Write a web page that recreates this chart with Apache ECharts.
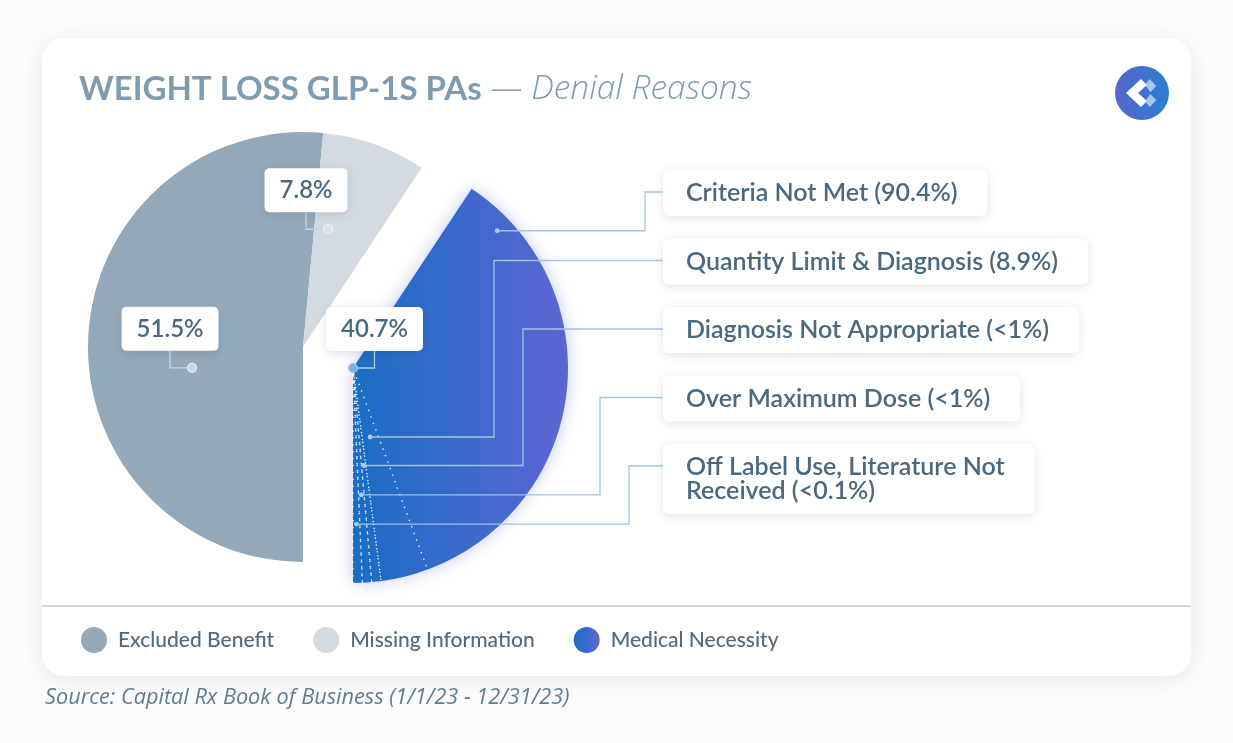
<!DOCTYPE html>
<html>
<head>
<meta charset="utf-8">
<script src="https://cdn.jsdelivr.net/npm/echarts@6.0.0/dist/echarts.min.js"></script>
<style>
html,body{margin:0;padding:0;background:#fcfcfd;width:1233px;height:743px;overflow:hidden}
#card{position:absolute;left:42px;top:38px;width:1149px;height:638px;background:#fff;border-radius:22px;box-shadow:0 3px 20px rgba(40,60,90,0.10)}
#chart{position:absolute;left:0;top:0;width:1233px;height:743px}
</style>
</head>
<body>
<div id="card"></div>
<div id="chart"></div>
<script>
// ---------- data ----------
const mainCategories = ['Excluded Benefit', 'Missing Information', 'Medical Necessity'];
const mainValues = [51.5, 7.8, 40.7];
const mainLabels = ['51.5%', '7.8%', '40.7%'];

const reasonCategories = ['Criteria Not Met', 'Quantity Limit & Diagnosis', 'Diagnosis Not Appropriate', 'Over Maximum Dose', 'Off Label Use, Literature Not Received'];
const reasonShares = [90.4, 8.9, 0.4, 0.25, 0.05];   // share of Medical Necessity denials (small ones estimated)
const reasonLabels = ['90.4%', '8.9%', '<1%', '<1%', '<0.1%'];

const titleMain = 'WEIGHT LOSS GLP-1S PAs';
const titleSub = ' — Denial Reasons';
const sourceText = 'Source: Capital Rx Book of Business (1/1/23 - 12/31/23)';

// ---------- layout / style constants ----------
const mainColors = ['#93a9b9', '#d3dae2'];
const medGradient = {type: 'linear', x: 0, y: 0, x2: 1, y2: 0, colorStops: [{offset: 0, color: '#1a6dc3'}, {offset: 1, color: '#5c66d3'}]};
const mainAnchor = [{t: 0.428, r: 0.525}, {t: 0.235, r: 0.56}, {t: 0.5, r: 0}];
const mainSrc = [[0, 0], [0, 1], [1, 1]];          // [seriesIndex, dataIndex] of each main category
const mainBoxDx = [-22, -22, 21.5];
const mainLineColor = ['#c9d3dc', '#c9d3dc', '#a9c9e7'];
const subAnchor = [{t: 0.871, r: 0.913}, {t: 0.5, r: 0.326}, {t: 0.5, r: 0.45}, {t: 0.5, r: 0.583}, {t: 0.5, r: 0.716}];
const subElbowX = [645, 494, 523, 600, 629];
const subWrapAfter = [0, 0, 0, 0, 5];
const boxLeft = 663, boxTop0 = 170, boxStep = 68.5;
const textColor = '#4a6880';

const chart = echarts.init(document.getElementById('chart'));

function layoutOf(si, di) {
  return chart.getModel().getSeriesByIndex(si).getData().getItemLayout(di);
}
function anchorOf(si, di, spec) {
  const L = layoutOf(si, di);
  const th = L.startAngle + spec.t * (L.endAngle - L.startAngle);
  const rr = spec.r * L.r;
  return [L.cx + rr * Math.cos(th), L.cy + rr * Math.sin(th)];
}
function mainGeom(k) {
  const a = anchorOf(mainSrc[k][0], mainSrc[k][1], mainAnchor[k]);
  const bx = a[0] + mainBoxDx[k], by = a[1] - 39;
  return {a: a, x: bx, y: by, pts: [[bx, by + 22], [bx, a[1]], [a[0], a[1]]]};
}
function subGeom(k) {
  const di = 4 - k;
  const a = anchorOf(2, di, subAnchor[k]);
  const top = boxTop0 + k * boxStep;
  const midY = top + 22;
  return {a: a, x: boxLeft, y: top, pts: [[a[0], a[1]], [subElbowX[k], a[1]], [subElbowX[k], midY], [boxLeft, midY]]};
}
function mainLayout(k) {
  try { const g = mainGeom(k); return {x: g.x, y: g.y, align: 'center', verticalAlign: 'middle'}; }
  catch (e) { return {}; }
}
function subLayout(di) {
  const k = 4 - di;
  if (k < 0 || k > 4) return {};
  try { const g = subGeom(k); return {x: g.x, y: g.y, align: 'left', verticalAlign: 'top'}; }
  catch (e) { return {}; }
}

const hidden = {label: {show: false}, labelLine: {show: false}, itemStyle: {color: 'rgba(0,0,0,0)', borderWidth: 0}, emphasis: {disabled: true}};
const mainLabelStyle = {
  show: true, position: 'outside', backgroundColor: '#ffffff', borderRadius: 5, padding: [10, 15],
  fontFamily: 'Lato', fontSize: 24, fontWeight: 600, lineHeight: 24, color: textColor,
  shadowBlur: 10, shadowColor: 'rgba(40,60,90,0.16)', shadowOffsetY: 2,
  formatter: p => mainLabels[mainCategories.indexOf(p.name)]
};

const restValue = mainValues[0] + mainValues[1];
const subData = [];
for (let k = 4; k >= 0; k--) {
  subData.push({
    name: reasonCategories[k],
    value: reasonShares[k] * mainValues[2] / 100,
    itemStyle: k === 0 ? {color: 'rgba(0,0,0,0)', borderWidth: 0}
      : {color: 'rgba(0,0,0,0)', borderColor: 'rgba(255,255,255,0.9)', borderWidth: 1.4, borderType: [1.4, 5.5]}
  });
}
subData.push(Object.assign({name: 'rest-c', value: restValue}, hidden));

const option = {
  animation: false,
  title: [{
    left: 79, top: 69, padding: 0,
    text: '{a|' + titleMain + '}{b|' + titleSub + '}',
    textStyle: {rich: {
      a: {fontFamily: 'Lato', fontWeight: 700, fontSize: 33, lineHeight: 40, color: '#7f9bb0'},
      b: {fontFamily: 'Open Sans', fontStyle: 'italic', fontWeight: 300, fontSize: 33.5, lineHeight: 40, color: '#7f9bb0'}
    }}
  }, {
    left: 45, top: 686, padding: 0, text: sourceText,
    textStyle: {fontFamily: 'Open Sans', fontStyle: 'italic', fontWeight: 400, fontSize: 21.7, lineHeight: 24, color: '#5f7c92'}
  }],
  legend: {
    data: mainCategories, left: 81, top: 627, padding: 0, icon: 'circle', itemWidth: 26, itemHeight: 26, itemGap: 39,
    selectedMode: false,
    textStyle: {fontFamily: 'Lato', fontSize: 21, fontWeight: 500, color: '#4f6b80', padding: [0, 0, 0, 6]}
  },
  series: [{
    type: 'pie', center: [303, 347], radius: 215, startAngle: 270, clockwise: true, avoidLabelOverlap: false,
    emphasis: {disabled: true},
    label: mainLabelStyle,
    labelLine: {show: false},
    labelLayout: p => (p.dataIndex < 2 ? mainLayout(p.dataIndex) : {}),
    data: [
      {name: mainCategories[0], value: mainValues[0], itemStyle: {color: mainColors[0]}},
      {name: mainCategories[1], value: mainValues[1], itemStyle: {color: mainColors[1]}},
      Object.assign({name: 'gap-a', value: mainValues[2]}, hidden)
    ]
  }, {
    type: 'pie', center: [353, 368], radius: 215, startAngle: 270, clockwise: true, avoidLabelOverlap: false,
    emphasis: {disabled: true},
    label: mainLabelStyle,
    labelLine: {show: false},
    labelLayout: p => (p.dataIndex === 1 ? mainLayout(2) : {}),
    data: [
      Object.assign({name: 'gap-b', value: restValue}, hidden),
      {name: mainCategories[2], value: mainValues[2],
       itemStyle: {color: medGradient, shadowBlur: 16, shadowColor: 'rgba(70,95,205,0.33)'}}
    ]
  }, {
    type: 'pie', center: [353, 368], radius: 218, startAngle: 270, clockwise: false, minAngle: 2.5,
    avoidLabelOverlap: false, silent: true, emphasis: {disabled: true}, z: 3,
    label: {
      show: true, position: 'outside', backgroundColor: '#ffffff', borderRadius: 6, padding: [11, 30, 11, 23],
      fontFamily: 'Lato', fontSize: 25, fontWeight: 600, lineHeight: 24, color: textColor,
      shadowBlur: 10, shadowColor: 'rgba(40,60,90,0.14)', shadowOffsetY: 2,
      formatter: p => {
        const k = 4 - p.dataIndex;
        let s = reasonCategories[k] + ' (' + reasonLabels[k] + ')';
        if (subWrapAfter[k]) {
          const w = s.split(' ');
          s = w.slice(0, subWrapAfter[k]).join(' ') + '\n' + w.slice(subWrapAfter[k]).join(' ');
        }
        return s;
      }
    },
    labelLine: {show: false},
    labelLayout: p => subLayout(p.dataIndex),
    data: subData
  }]
};
chart.setOption(option);

// ---------- second pass: leader lines, anchor dots and decorations from the computed pie layout ----------
const gfx = [];
gfx.push({type: 'line', id: 'divider', z: 50, shape: {x1: 42, y1: 606, x2: 1191, y2: 606}, style: {stroke: '#bdc9d3', lineWidth: 1.5}});
gfx.push({type: 'group', id: 'logo', x: 1142, y: 93, z: 50, children: [
  {type: 'circle', shape: {cx: 0, cy: 0, r: 27}, style: {fill: {type: 'linear', x: 0, y: 0, x2: 1, y2: 0, colorStops: [{offset: 0, color: '#5667cb'}, {offset: 1, color: '#2b7fd3'}]}}},
  {type: 'polygon', shape: {points: [[7.7, -14], [14.3, -7], [8.3, -0.7], [3.3, -8.3]]}, style: {fill: '#a9c4ee'}},
  {type: 'polygon', shape: {points: [[8.3, 1], [14.3, 7], [7.7, 14.3], [3.3, 8.3]]}, style: {fill: '#a9c4ee'}},
  {type: 'polygon', shape: {points: [[-16, 0], [-1, -14], [5, -8], [-4, 0], [5, 8], [-1, 14]]}, style: {fill: '#ffffff'}}
]});
try {
  const dotStyles = [
    {fill: '#cdd6de', stroke: '#e6ebef'},
    {fill: '#dbe1e7', stroke: '#f1f4f6'},
    {fill: '#7dadd9', stroke: '#a9c9e8'}
  ];
  for (let k = 0; k < 3; k++) {
    const g = mainGeom(k);
    gfx.push({type: 'polyline', id: 'ml' + k, z: 90, shape: {points: g.pts}, style: {stroke: mainLineColor[k], lineWidth: 1.3, fill: null}});
    gfx.push({type: 'circle', id: 'md' + k, z: 100, shape: {cx: g.a[0], cy: g.a[1], r: 4.5}, style: Object.assign({lineWidth: 1.2}, dotStyles[k])});
  }
  for (let k = 0; k < 5; k++) {
    const g = subGeom(k);
    gfx.push({type: 'polyline', id: 'sl' + k, z: 90, shape: {points: g.pts}, style: {stroke: '#9fc4e8', lineWidth: 1.3, fill: null}});
    gfx.push({type: 'circle', id: 'sd' + k, z: 100, shape: {cx: g.a[0], cy: g.a[1], r: 2.4}, style: {fill: '#a8cbed'}});
  }
} catch (e) {}
chart.setOption({graphic: gfx});
</script>
</body>
</html>
